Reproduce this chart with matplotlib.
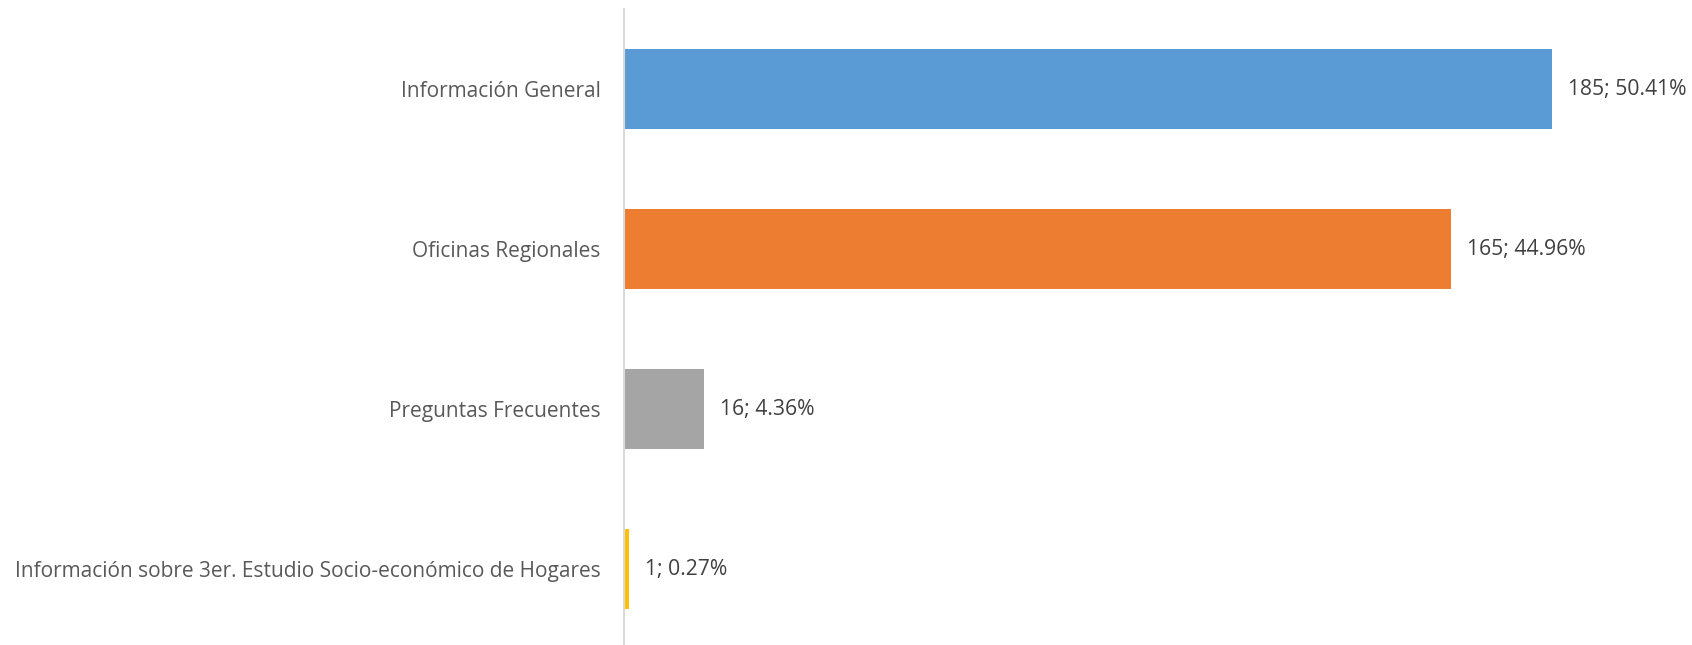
import matplotlib
matplotlib.use("Agg")
import matplotlib.pyplot as plt

categories = ["Información General", "Oficinas Regionales", "Preguntas Frecuentes",
              "Información sobre 3er. Estudio Socio-económico de Hogares"]
counts = [185, 165, 16, 1]
percents = [50.41, 44.96, 4.36, 0.27]
colors = ["#5B9BD5", "#ED7D31", "#A5A5A5", "#FFC000"]

W, H = 1692, 645
fig = plt.figure(figsize=(W/100, H/100), dpi=100)
ax = fig.add_axes([624/W, -4/H, 1003/W, 640/H])

ypos = list(range(len(categories)))
ax.barh(ypos, counts, height=0.5, color=colors)
ax.set_ylim(len(categories)-0.5, -0.5)
ax.set_xlim(0, 200)

for y, c, p in zip(ypos, counts, percents):
    ax.annotate(f"{c}; {p:.2f}%", xy=(c, y), xytext=(16, 0), textcoords="offset pixels",
                va="center", ha="left", fontsize=15.2, color="#404040",
                family="Open Sans", annotation_clip=False)

ax.set_yticks(ypos)
ax.set_yticklabels(categories, fontsize=15, color="#595959", family="Open Sans")
ax.tick_params(axis="y", length=0, pad=17)
ax.set_xticks([])
for s in ["top", "right", "bottom"]:
    ax.spines[s].set_visible(False)
ax.spines["left"].set_color("#D9D9D9")
ax.spines["left"].set_linewidth(1.5)

fig.savefig("out.png", dpi=100)
